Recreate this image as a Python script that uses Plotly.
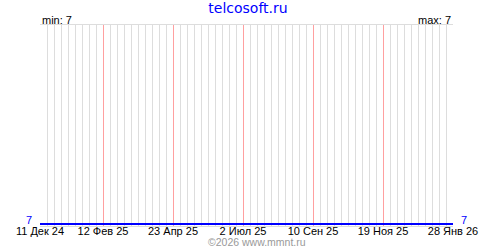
import plotly.graph_objects as go
import pandas as pd

# ---- data ----
series_dates = ["2024-12-11", "2026-01-28"]
series_values = [7, 7]
tick_dates = ["2024-12-11", "2025-02-12", "2025-04-23", "2025-07-02",
              "2025-09-10", "2025-11-19", "2026-01-28"]
tick_labels = ["11 Дек 24", "12 Фев 25", "23 Апр 25", "2 Июл 25",
               "10 Сен 25", "19 Ноя 25", "28 Янв 26"]
title_text = "telcosoft.ru"
footer_text = "©2026 www.mmnt.ru"

vmin = min(series_values)
vmax = max(series_values)

# weekly minor grid positions, excluding the labelled (major) dates
weekly = pd.date_range(series_dates[0], series_dates[-1], freq="7D").strftime("%Y-%m-%d")
minor_dates = [d for d in weekly if d not in tick_dates]

SMALL = "Liberation Sans, Arial, sans-serif"

fig = go.Figure()
fig.add_trace(go.Scatter(
    x=series_dates, y=series_values, mode="lines",
    line=dict(color="#0000ff", width=2), hoverinfo="skip",
    showlegend=False, yaxis="y",
))
fig.add_trace(go.Scatter(
    x=series_dates, y=series_values, mode="lines",
    line=dict(color="#0000ff", width=2), hoverinfo="skip",
    showlegend=False, yaxis="y2",
))

yrange = [vmin - 0.01, vmin + 1]

fig.update_layout(
    width=500, height=250,
    margin=dict(l=40, r=47, t=25, b=24, pad=0, autoexpand=False),
    paper_bgcolor="white", plot_bgcolor="white",
    title=dict(text=title_text, x=0.496, xref="container", xanchor="center",
               y=0.968, yref="container", yanchor="middle",
               font=dict(family="DejaVu Sans, Verdana, sans-serif", size=14, color="#0000ff")),
    xaxis=dict(
        type="date", automargin=False,
        range=[series_dates[0], series_dates[-1]],
        tickmode="array", tickvals=tick_dates, ticktext=tick_labels,
        ticks="", showgrid=True, gridcolor="#ffa0a0", gridwidth=1,
        minor=dict(tickmode="array", tickvals=minor_dates, showgrid=True,
                   gridcolor="#dddddd", gridwidth=1, ticks=""),
        showline=True, mirror=True, linecolor="#dddddd", linewidth=1,
        zeroline=False, layer="below traces",
        tickfont=dict(family=SMALL, size=11, color="black"),
        tickangle=0, ticklabelstandoff=-5,
    ),
    yaxis=dict(
        automargin=False,
        range=yrange, tickmode="array", tickvals=[vmin], ticktext=[str(vmin)],
        showgrid=False, zeroline=False, ticks="", showline=False,
        tickfont=dict(family=SMALL, size=11, color="#0000ff"),
        ticklabelshift=-4, ticklabelstandoff=7,
    ),
    yaxis2=dict(
        automargin=False,
        range=yrange, overlaying="y", side="right", anchor="x",
        tickmode="array", tickvals=[vmax], ticktext=[str(vmax)],
        showgrid=False, zeroline=False, ticks="", showline=False,
        tickfont=dict(family=SMALL, size=11, color="#0000ff"),
        ticklabelshift=-4, ticklabelstandoff=7,
    ),
    annotations=[
        dict(text=f"min: {vmin}", xref="paper", yref="paper", x=0, y=1.027,
             xanchor="left", yanchor="middle", showarrow=False,
             font=dict(family=SMALL, size=11, color="black")),
        dict(text=f"max: {vmax}", xref="paper", yref="paper", x=1, y=1.027,
             xanchor="right", yanchor="middle", showarrow=False,
             font=dict(family=SMALL, size=11, color="black")),
        dict(text=footer_text, xref="paper", yref="paper", x=(256.5 - 40) / 413,
             y=-0.082, xanchor="center", yanchor="middle", showarrow=False,
             font=dict(family=SMALL, size=10.5, color="#999999")),
    ],
)

fig.write_html("out.html")
